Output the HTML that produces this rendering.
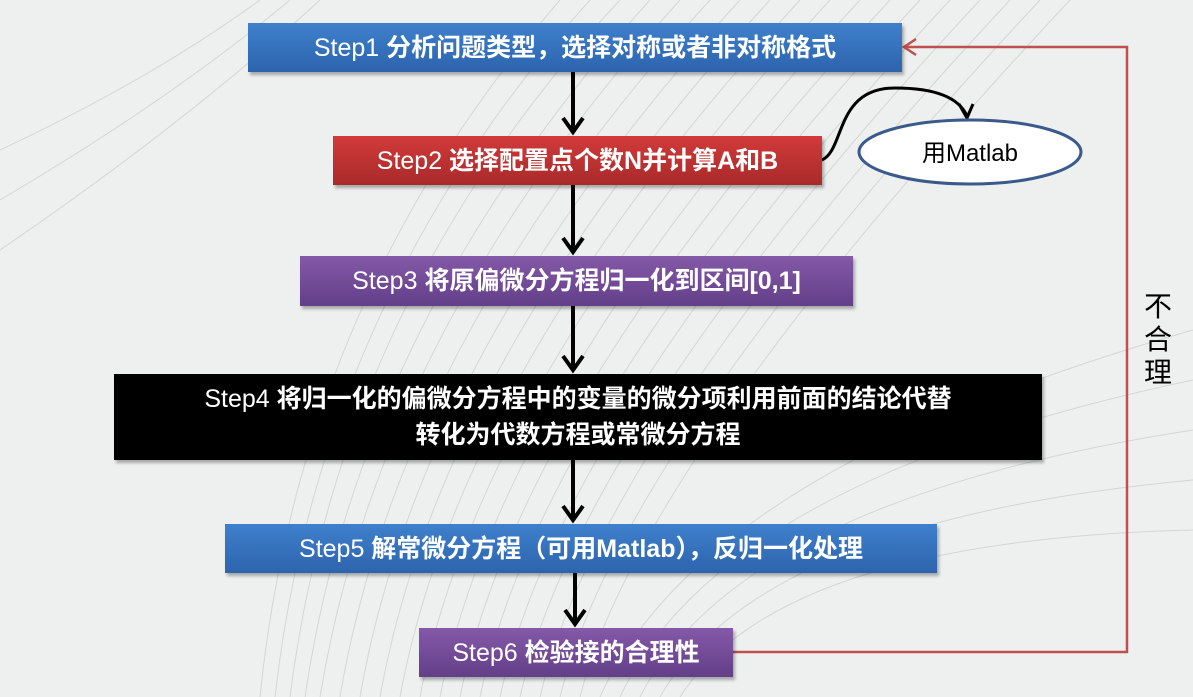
<!DOCTYPE html>
<html><head><meta charset="utf-8"><style>
body{margin:0;width:1193px;height:697px;background:#edf0ef;position:relative;overflow:hidden;font-family:"Liberation Sans","Noto Sans CJK SC",sans-serif;}
.b{position:absolute;color:#fff;font-size:25px;font-weight:bold;display:flex;align-items:center;justify-content:center;text-align:center;box-shadow:2px 3px 3px rgba(0,0,0,.3);line-height:36px}
.b span{font-weight:normal}
.blue{background:linear-gradient(#3f80cc,#2d64ad)}
.red{background:linear-gradient(#d23a3a,#a92a2a)}
.pur{background:linear-gradient(#8459a8,#633f88)}
</style></head><body>
<svg width="1193" height="697" style="position:absolute;left:0;top:0">
<g stroke="#d3d6d5" stroke-width="1" fill="none">
<path d="M260 697 Q300 300 560 0"/><path d="M275 697 Q320 300 590 0"/><path d="M290 697 Q340 300 620 0"/>
<path d="M305 697 Q360 320 650 0"/><path d="M320 697 Q380 330 680 0"/><path d="M340 697 Q400 340 710 0"/>
<path d="M360 697 Q420 350 740 0"/><path d="M380 697 Q440 360 770 0"/><path d="M400 697 Q460 370 800 0"/>
<path d="M420 697 Q480 380 830 0"/><path d="M440 697 Q500 390 860 0"/><path d="M460 697 Q520 400 890 0"/>
<path d="M480 697 Q540 410 920 0"/><path d="M500 697 Q560 420 950 0"/><path d="M520 697 Q580 430 980 0"/>
<path d="M540 697 Q600 440 1010 0"/><path d="M560 697 Q620 450 1040 0"/><path d="M580 697 Q640 460 1070 0"/>
<path d="M600 697 Q700 470 1193 330"/><path d="M620 697 Q720 480 1193 380"/><path d="M640 697 Q740 500 1193 430"/>
<path d="M660 697 Q760 520 1193 480"/><path d="M680 697 Q780 540 1193 530"/>
<path d="M0 150 Q150 80 260 0"/><path d="M0 200 Q170 100 290 0"/><path d="M0 250 Q190 120 320 0"/>
</g>
<g stroke="#000" stroke-width="4" fill="none">
<line x1="573" y1="72" x2="573" y2="132"/><polyline points="563,118 573,132 583,118"/>
<line x1="573" y1="185" x2="573" y2="252"/><polyline points="563,238 573,252 583,238"/>
<line x1="573" y1="306" x2="573" y2="370"/><polyline points="563,356 573,370 583,356"/>
<line x1="573" y1="460" x2="573" y2="520"/><polyline points="563,506 573,520 583,506"/>
<line x1="575" y1="573" x2="575" y2="624"/><polyline points="565,610 575,624 585,610"/>
<path d="M822 160 C845 150 835 88 895 88 C940 88 960 100 967 116" stroke-width="3"/><polyline points="959,104 967,118 973,104" stroke-width="3"/>
</g>
<g stroke="#c0504d" stroke-width="2.5" fill="none">
<polyline points="733,652 1127,652 1127,47 904,47"/><polyline points="916,39 904,47 916,55"/>
</g>
<ellipse cx="970" cy="152" rx="111" ry="32" fill="#fff" stroke="#3a5a8c" stroke-width="3"/>
<text x="970" y="161" font-size="24" text-anchor="middle" font-family="Liberation Sans,Noto Sans CJK SC,sans-serif">用Matlab</text>
</svg>
<div class="b blue" style="left:248px;top:23px;width:654px;height:49px"><span>Step1&nbsp;</span>分析问题类型，选择对称或者非对称格式</div>
<div class="b red" style="left:333px;top:136px;width:489px;height:49px"><span>Step2&nbsp;</span>选择配置点个数N并计算A和B</div>
<div class="b pur" style="left:300px;top:256px;width:553px;height:50px"><span>Step3&nbsp;</span>将原偏微分方程归一化到区间[0,1]</div>
<div class="b" style="left:114px;top:374px;width:928px;height:86px;background:#000;display:block;padding-top:7px;box-sizing:border-box"><span>Step4&nbsp;</span>将归一化的偏微分方程中的变量的微分项利用前面的结论代替<br>转化为代数方程或常微分方程</div>
<div class="b blue" style="left:225px;top:524px;width:712px;height:49px"><span>Step5&nbsp;</span>解常微分方程（可用Matlab），反归一化处理</div>
<div class="b pur" style="left:419px;top:628px;width:314px;height:49px"><span>Step6&nbsp;</span>检验接的合理性</div>
<div style="position:absolute;left:1143px;top:290px;width:30px;font-size:28px;line-height:33px;text-align:center;color:#000">不<br>合<br>理</div>
</body></html>
